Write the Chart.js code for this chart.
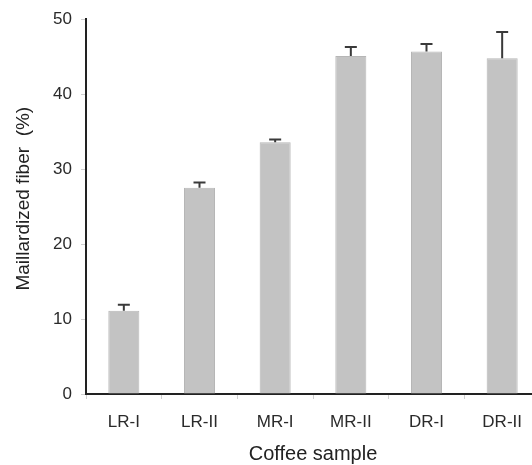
<!DOCTYPE html>
<html>
<head>
<meta charset="utf-8">
<script src="https://cdn.jsdelivr.net/npm/chart.js@4/dist/chart.umd.min.js"></script>
<style>
  html, body { margin: 0; padding: 0; overflow: hidden; background: #fff; }
  .wrapper { position: relative; width: 540px; height: 465px; }
</style>
</head>
<body>
<div class="wrapper"><canvas id="chart1"></canvas></div>
<script>
const samples = ["LR-I", "LR-II", "MR-I", "MR-II", "DR-I", "DR-II"];
const fiber = [11.1, 27.5, 33.6, 45.1, 45.7, 44.8];
const fiberErr = [0.8, 0.7, 0.35, 1.2, 1.0, 3.5];
const yTicks = [0, 10, 20, 30, 40, 50];

const font = "'Liberation Sans', Arial, sans-serif";

const errorBars = {
  id: "errorBars",
  afterDatasetsDraw(chart) {
    const ctx = chart.ctx;
    const yScale = chart.scales.y;
    const meta = chart.getDatasetMeta(0);
    ctx.save();
    ctx.strokeStyle = "#3a3a3a";
    ctx.lineWidth = 2;
    meta.data.forEach(function (bar, i) {
      const top = yScale.getPixelForValue(fiber[i] + fiberErr[i]);
      ctx.beginPath();
      ctx.moveTo(bar.x, bar.y);
      ctx.lineTo(bar.x, top);
      ctx.moveTo(bar.x - 6, top);
      ctx.lineTo(bar.x + 6, top);
      ctx.stroke();
    });
    ctx.restore();
  },
};

document.addEventListener("DOMContentLoaded", function () {
  const ctx = document.getElementById("chart1").getContext("2d");
  new Chart(ctx, {
    type: "bar",
    data: {
      labels: samples,
      datasets: [
        {
          label: "Maillardized fiber",
          data: fiber,
          backgroundColor: "#c3c3c3",
          borderColor: "#b6b6b6",
          borderWidth: 1,
          categoryPercentage: 1,
          barPercentage: 0.41,
        },
      ],
    },
    options: {
      responsive: true,
      maintainAspectRatio: false,
      animation: false,
      layout: { padding: { top: 19, right: 0, bottom: 0, left: 0 } },
      plugins: { legend: { display: false }, tooltip: { enabled: false } },
      scales: {
        x: {
          afterFit: function (scale) { scale.height = 71; },
          border: { display: true, color: "#222", width: 2 },
          grid: { drawOnChartArea: false, drawTicks: true, tickLength: 5, color: "#d0d0d0" },
          ticks: { color: "#2a2a2a", font: { family: font, size: 17 }, padding: 13 },
          title: {
            display: true,
            text: "Coffee sample",
            color: "#222",
            font: { family: font, size: 20, lineHeight: 1 },
            padding: { top: 0, bottom: 1 },
          },
        },
        y: {
          min: 0,
          max: 50,
          afterFit: function (scale) { scale.width = 86; },
          afterBuildTicks: function (scale) {
            scale.ticks = yTicks.map(function (v) { return { value: v }; });
          },
          border: { display: true, color: "#222", width: 2 },
          grid: { drawOnChartArea: false, drawTicks: true, tickLength: 5, color: "#d0d0d0" },
          ticks: { color: "#2a2a2a", font: { family: font, size: 17 }, padding: 9 },
          title: {
            display: true,
            // leading spaces nudge the rotated title up a little, like the original
            text: "   Maillardized fiber  (%)",
            color: "#222",
            font: { family: font, size: 19 },
            padding: { top: 12, bottom: 4 },
          },
        },
      },
    },
    plugins: [errorBars],
  });
});
</script>
</body>
</html>
